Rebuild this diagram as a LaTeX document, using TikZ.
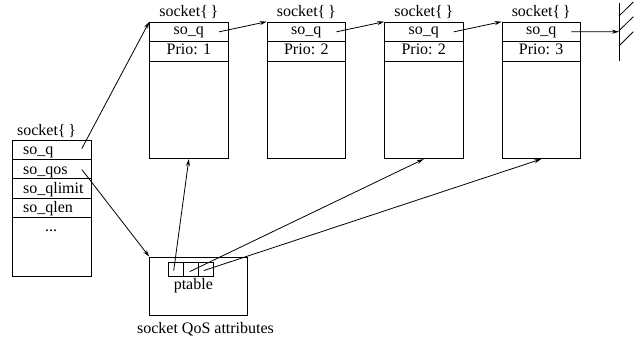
\documentclass[tikz,border=0pt]{standalone}
\usepackage{fontspec}
\setmainfont{Liberation Serif}
\usetikzlibrary{arrows.meta,calc}
\begin{document}
\begin{tikzpicture}[x=1pt,y=-1pt,
  font=\fontsize{16}{18}\selectfont,
  line width=0.8pt,
  arr/.style={-{Stealth[length=7pt,width=4pt]}},
  box/.style={draw, rectangle, inner sep=0pt, anchor=north west},
  sock/.style={box, minimum width=78.3pt, minimum height=136.6pt},
  srow/.style={box, minimum width=78.3pt, minimum height=19.5pt, text height=9pt, text depth=3pt},
  lrow/.style={box, minimum width=78.5pt, minimum height=19.4pt, text height=11pt, text depth=1pt,
     inner xsep=10.7pt, text width=57.1pt, align=left},
  cell/.style={box, minimum width=15pt, minimum height=14pt},
  lbl/.style={anchor=base, inner sep=0pt}
]
\useasboundingbox (0,0) rectangle (644,340);

% left socket
\node[box, minimum width=78.5pt, minimum height=136pt] (ls) at (12,139.5) {};
\node[lrow] (lq) at (12,139.5) {so\_q};
\node[lrow] (lqos) at (12,158.9) {so\_qos};
\node[lrow] (llim) at (12,178.3) {so\_qlimit};
\node[lrow] (llen) at (12,197.7) {so\_qlen};
\node[lbl] (ldots) at (51,231.7) {...};
\node[lbl, anchor=base west] (lslbl) at (16.7,135) {socket\{\,\}};

% top sockets
\foreach \i/\p in {1/1,2/2,3/2,4/3}{
  \pgfmathsetmacro{\xx}{149.3+117.45*(\i-1)}
  \node[sock] (s\i) at (\xx,21.7) {};
  \node[srow] (q\i) at (\xx,21.7) {so\_q};
  \node[srow] (p\i) at (\xx,41.2) {Prio: \p};
  \node[lbl] (t\i) at ($(s\i.north)+(0,-5)$) {socket\{\,\}};
  \coordinate (qs\i) at ($(q\i.east)+(-9.5,0)$);
}

% ground
\coordinate (g) at (619,31.7);
\coordinate (gt) at (619,2.7);
\coordinate (gb) at (619,60.7);
\draw (gt) -- (gb);
\draw (619,16) -- (633.3,2) (619,30.7) -- (633.3,16.7) (619,46) -- (633.3,31.7);

% QoS attributes
\node[box, minimum width=98pt, minimum height=58.3pt] (qos) at (149.3,256.7) {};
\node[cell] (c1) at (168.3,261.7) {};
\node[cell] (c2) at (183.3,261.7) {};
\node[cell] (c3) at (198.3,261.7) {};
\node[lbl] (pt) at (193.3,289.5) {ptable};
\node[lbl] (qlbl) at (205.5,333) {socket QoS attributes};

% connectors
\coordinate (lqs) at ($(lq.east)+(-9.5,-1)$);
\coordinate (lqoss) at ($(lqos.east)+(-9.5,0.5)$);
\draw[arr] (lqs) -- (s1.north west);
\draw[arr] (lqoss) -- (qos.north west);
\draw[arr] (qs1) -- (s2.north west);
\draw[arr] (qs2) -- (s3.north west);
\draw[arr] (qs3) -- (s4.north west);
\draw[arr] (qs4) -- (g);

\coordinate (c1s) at ($(c1.center)+(-2.5,1.5)$);
\coordinate (c2s) at ($(c2.center)+(-1.5,2.5)$);
\coordinate (c3s) at ($(c3.center)+(-2.5,1.5)$);
\draw[arr] (c1s) -- (s1.south);
\draw[arr] (c2s) -- (s3.south);
\draw[arr] (c3s) -- (s4.south);
\end{tikzpicture}
\end{document}
